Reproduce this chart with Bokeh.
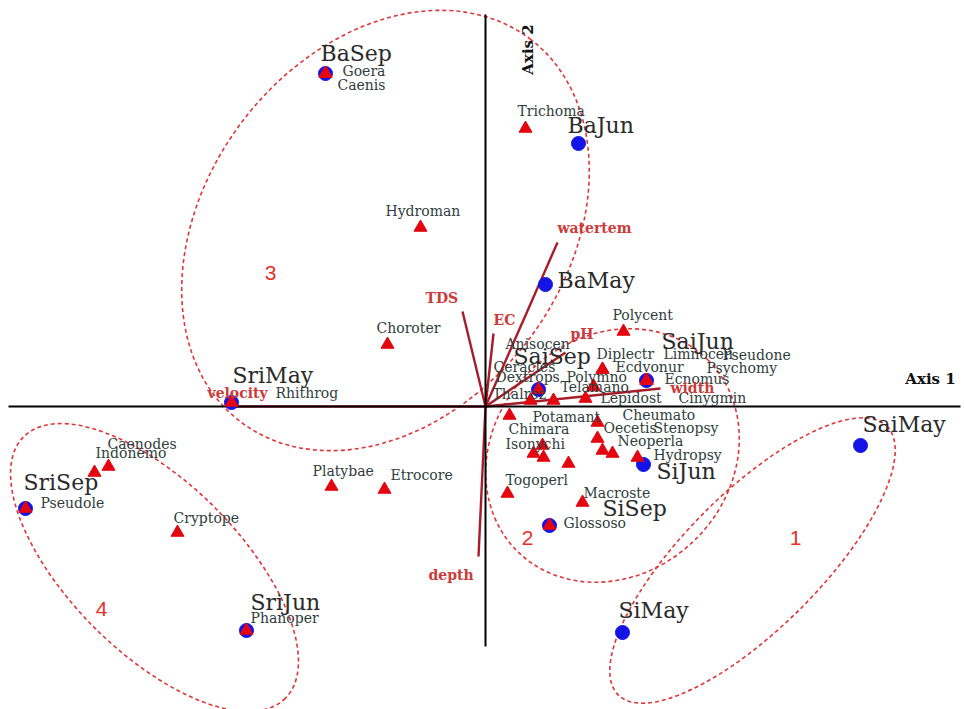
import math
from bokeh.plotting import figure
from bokeh.models import Range1d
from bokeh.core.properties import value
from bokeh.embed import file_html
from bokeh.resources import INLINE

# ---- sites (blue circles) ----
site_names = ["BaSep", "BaJun", "BaMay", "SaiJun", "SaiSep", "SriMay",
              "SaiMay", "SiJun", "SiSep", "SriSep", "SriJun", "SiMay"]
site_x = [-1.60, 0.93, 0.60, 1.61, 0.53, -2.54, 3.75, 1.58, 0.64, -4.60, -2.39, 1.37]
site_y = [3.33, 2.63, 1.22, 0.26, 0.17, 0.04, -0.39, -0.58, -1.19, -1.02, -2.24, -2.26]
site_lx = [-1.65, 0.82, 0.72, 1.76, 0.28, -2.53, 3.77, 1.71, 1.17, -4.62, -2.35, 1.33]
site_ly = [3.53, 2.81, 1.26, 0.65, 0.50, 0.31, -0.18, -0.65, -1.02, -0.76, -1.96, -2.04]

# ---- taxa (red triangles) ----
sp_names = ["Goera", "Caenis", "Trichoma", "Hydroman", "Choroter", "Polycent",
            "Anisocen", "Ceracles", "Dextrops", "Thalroz", "Polymno", "Telamano",
            "Lepidost", "Diplectr", "Limnocen", "Pseudone", "Ecdvonur", "Psychomy",
            "Ecnomus", "Cinygmin", "Cheumato", "Potamant", "Chimara", "Oecetis",
            "Stenopsy", "Isonychi", "Neoperla", "Hydropsy", "Togoperl", "Macroste",
            "Glossoso", "Platybae", "Etrocore", "Cryptope", "Pseudole", "Caenodes",
            "Indonemo", "Phanoper", "Rhithrog"]
sp_x = [-1.60, -1.60, 0.40, -0.65, -0.98, 1.38,
        0.45, 0.68, 0.53, 0.24, 1.08, 1.08,
        1.00, 1.17, 1.61, 1.61, 1.17, 1.61,
        1.61, 0.83, 1.12, 0.58, 0.48, 1.12,
        1.27, 0.57, 1.17, 1.52, 0.22, 0.97,
        0.64, -1.54, -1.01, -3.08, -4.60, -3.77,
        -3.91, -2.39, -2.54]
sp_y = [3.33, 3.33, 2.78, 1.79, 0.62, 0.75,
        0.06, 0.06, 0.17, -0.09, 0.20, 0.20,
        0.08, 0.37, 0.26, 0.26, 0.37, 0.26,
        0.26, -0.57, -0.16, -0.51, -0.47, -0.32,
        -0.47, -0.39, -0.44, -0.51, -0.87, -0.96,
        -1.19, -0.80, -0.83, -1.26, -1.02, -0.60,
        -0.66, -2.24, 0.04]
sp_lx = [-1.43, -1.48, 0.32, -1.00, -1.09, 1.27,
         0.20, 0.08, 0.10, 0.07, 0.81, 0.75,
         1.15, 1.11, 1.78, 2.37, 1.30, 2.21,
         1.79, 1.93, 1.37, 0.47, 0.23, 1.18,
         1.68, 0.20, 1.32, 1.68, 0.20, 0.98,
         0.78, -1.73, -0.95, -3.12, -4.45, -3.78,
         -3.90, -2.35, -2.10]
sp_ly = [3.36, 3.22, 2.96, 1.96, 0.79, 0.92,
         0.63, 0.40, 0.30, 0.13, 0.30, 0.20,
         0.09, 0.53, 0.53, 0.52, 0.40, 0.39,
         0.28, 0.09, -0.08, -0.10, -0.22, -0.21,
         -0.21, -0.37, -0.34, -0.48, -0.73, -0.86,
         -1.16, -0.64, -0.68, -1.11, -0.96, -0.37,
         -0.46, -2.11, 0.14]

# ---- environmental vectors ----
env_names = ["watertem", "TDS", "EC", "pH", "width", "velocity", "depth"]
env_x = [0.72, -0.23, 0.08, 0.80, 1.75, -2.50, -0.07]
env_y = [1.64, 0.95, 0.73, 0.54, 0.18, 0.00, -1.50]
env_lx = [0.72, -0.60, 0.08, 0.85, 1.85, -2.78, -0.57]
env_ly = [1.79, 1.09, 0.87, 0.73, 0.19, 0.14, -1.68]

# ---- groups (dashed ellipses) ----
grp_labels = ["1", "2", "3", "4"]
grp_cx = [2.67, 1.27, -1.00, -3.31]
grp_cy = [-1.54, -0.49, 1.76, -1.61]
grp_w = [3.8, 2.7, 4.8, 3.7]
grp_h = [1.36, 2.36, 3.6, 1.7]
grp_angle_deg = [45, 45, 53, -45]
grp_lx = [3.10, 0.42, -2.15, -3.84]
grp_ly = [-1.31, -1.31, 1.34, -2.02]

SERIF = "DejaVu Serif"
p = figure(width=964, height=709, x_range=Range1d(-4.85, 4.79), y_range=Range1d(-3.03, 4.06),
           output_backend="svg", toolbar_location=None,
           x_axis_location=None, y_axis_location=None,
           min_border=0, min_border_left=0, min_border_right=0,
           min_border_top=0, min_border_bottom=0)
p.grid.visible = False
p.outline_line_color = None
p.background_fill_color = "white"
p.border_fill_color = "white"

# ellipses
p.ellipse(x=grp_cx, y=grp_cy, width=grp_w, height=grp_h,
          angle=[math.radians(a) for a in grp_angle_deg],
          fill_alpha=0, line_color="#e0353a", line_width=1.6, line_dash="4 3")

# env vectors
p.segment(x0=[0] * len(env_x), y0=[0] * len(env_y), x1=env_x, y1=env_y,
          line_color="#a81c2a", line_width=2.4)

# axes
p.segment(x0=[-4.77, 0], y0=[0, 3.92], x1=[4.75, 0], y1=[0, -2.40],
          line_color="black", line_width=2)

# sites
p.scatter(x=site_x, y=site_y, marker="circle", size=14, fill_color="#1414e6",
          line_color="#1414e6")
# taxa
p.scatter(x=sp_x, y=sp_y, marker="triangle", size=13, fill_color="#e3060f",
          line_color="#e3060f")

# texts
p.text(x=sp_lx, y=sp_ly, text=sp_names, text_font=value(SERIF),
       text_font_size=value("14px"), text_color="#2f3d3d",
       text_align="left", text_baseline="middle")
p.text(x=site_lx, y=site_ly, text=site_names, text_font=value(SERIF),
       text_font_size=value("22px"), text_color="#2a2a2a",
       text_align="left", text_baseline="middle")
p.text(x=env_lx, y=env_ly, text=env_names, text_font=value(SERIF),
       text_font_size=value("14px"), text_font_style="bold", text_color="#cc3a3a",
       text_align="left", text_baseline="middle")
p.text(x=grp_lx, y=grp_ly, text=grp_labels, text_font=value("Liberation Sans"),
       text_font_size=value("21px"), text_color="#e8302a",
       text_align="center", text_baseline="middle")

p.text(x=[4.45], y=[0.28], text=["Axis 1"], text_font=value(SERIF),
       text_font_size=value("15px"), text_font_style="bold", text_color="#111111",
       text_align="center", text_baseline="middle")
p.text(x=[0.42], y=[3.57], text=["Axis 2"], text_font=value(SERIF),
       text_font_size=value("15px"), text_font_style="bold", text_color="#111111",
       text_align="center", text_baseline="middle", angle=math.pi / 2)

open("out.html", "w").write(file_html(p, INLINE))
